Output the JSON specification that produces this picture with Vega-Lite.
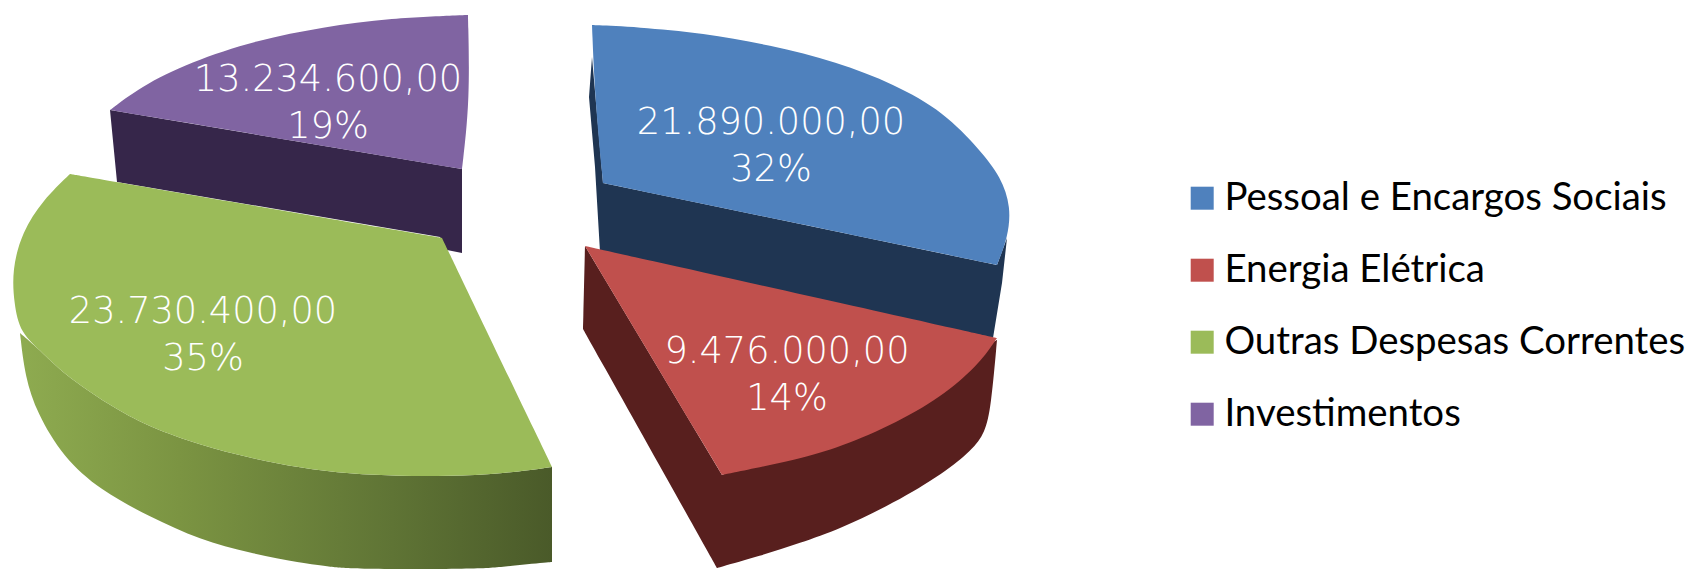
{"$schema":"https://vega.github.io/schema/vega-lite/v6.json","width":1689,"height":569,"padding":0,"autosize":{"type":"fit","contains":"padding"},"background":"white","config":{"view":{"stroke":null}},
"datasets":{"outline":[
{"s":"Investimentos","f":"side","o":0,"x":110,"y":110},{"s":"Investimentos","f":"side","o":1,"x":462,"y":169},{"s":"Investimentos","f":"side","o":2,"x":462,"y":253},{"s":"Investimentos","f":"side","o":3,"x":447,"y":250},{"s":"Investimentos","f":"side","o":4,"x":440,"y":237},{"s":"Investimentos","f":"side","o":5,"x":117,"y":182},
{"s":"Investimentos","f":"top","o":0,"x":468,"y":15},{"s":"Investimentos","f":"top","o":1,"x":468,"y":15},{"s":"Investimentos","f":"top","o":2,"x":468,"y":15},{"s":"Investimentos","f":"top","o":3,"x":390,"y":18},{"s":"Investimentos","f":"top","o":4,"x":323,"y":27},{"s":"Investimentos","f":"top","o":5,"x":257,"y":40},{"s":"Investimentos","f":"top","o":6,"x":190,"y":62},{"s":"Investimentos","f":"top","o":7,"x":140,"y":87},{"s":"Investimentos","f":"top","o":8,"x":110,"y":110},{"s":"Investimentos","f":"top","o":9,"x":110,"y":110},{"s":"Investimentos","f":"top","o":10,"x":110,"y":110},{"s":"Investimentos","f":"top","o":11,"x":462,"y":169},{"s":"Investimentos","f":"top","o":12,"x":462,"y":169},{"s":"Investimentos","f":"top","o":13,"x":462,"y":169},{"s":"Investimentos","f":"top","o":14,"x":470,"y":100},{"s":"Investimentos","f":"top","o":15,"x":468,"y":15},{"s":"Investimentos","f":"top","o":16,"x":468,"y":15},{"s":"Investimentos","f":"top","o":17,"x":468,"y":15},
{"s":"Outras Despesas Correntes","f":"side","o":0,"x":20,"y":333},{"s":"Outras Despesas Correntes","f":"side","o":1,"x":20,"y":333},{"s":"Outras Despesas Correntes","f":"side","o":2,"x":20,"y":333},{"s":"Outras Despesas Correntes","f":"side","o":3,"x":25,"y":377},{"s":"Outras Despesas Correntes","f":"side","o":4,"x":37,"y":413},{"s":"Outras Despesas Correntes","f":"side","o":5,"x":63,"y":457},{"s":"Outras Despesas Correntes","f":"side","o":6,"x":100,"y":490},{"s":"Outras Despesas Correntes","f":"side","o":7,"x":150,"y":517},{"s":"Outras Despesas Correntes","f":"side","o":8,"x":200,"y":540},{"s":"Outras Despesas Correntes","f":"side","o":9,"x":250,"y":553},{"s":"Outras Despesas Correntes","f":"side","o":10,"x":300,"y":563},{"s":"Outras Despesas Correntes","f":"side","o":11,"x":333,"y":567},{"s":"Outras Despesas Correntes","f":"side","o":12,"x":350,"y":569},{"s":"Outras Despesas Correntes","f":"side","o":13,"x":480,"y":569},{"s":"Outras Despesas Correntes","f":"side","o":14,"x":500,"y":567},{"s":"Outras Despesas Correntes","f":"side","o":15,"x":552,"y":562},{"s":"Outras Despesas Correntes","f":"side","o":16,"x":552,"y":562},{"s":"Outras Despesas Correntes","f":"side","o":17,"x":552,"y":562},{"s":"Outras Despesas Correntes","f":"side","o":18,"x":552,"y":467},{"s":"Outras Despesas Correntes","f":"side","o":19,"x":552,"y":467},{"s":"Outras Despesas Correntes","f":"side","o":20,"x":552,"y":467},{"s":"Outras Despesas Correntes","f":"side","o":21,"x":500,"y":474},{"s":"Outras Despesas Correntes","f":"side","o":22,"x":450,"y":476},{"s":"Outras Despesas Correntes","f":"side","o":23,"x":400,"y":476},{"s":"Outras Despesas Correntes","f":"side","o":24,"x":350,"y":474},{"s":"Outras Despesas Correntes","f":"side","o":25,"x":300,"y":468},{"s":"Outras Despesas Correntes","f":"side","o":26,"x":250,"y":458},{"s":"Outras Despesas Correntes","f":"side","o":27,"x":200,"y":445},{"s":"Outras Despesas Correntes","f":"side","o":28,"x":150,"y":427},{"s":"Outras Despesas Correntes","f":"side","o":29,"x":117,"y":410},{"s":"Outras Despesas Correntes","f":"side","o":30,"x":67,"y":377},{"s":"Outras Despesas Correntes","f":"side","o":31,"x":43,"y":353},{"s":"Outras Despesas Correntes","f":"side","o":32,"x":20,"y":333},{"s":"Outras Despesas Correntes","f":"side","o":33,"x":20,"y":333},{"s":"Outras Despesas Correntes","f":"side","o":34,"x":20,"y":333},
{"s":"Outras Despesas Correntes","f":"top","o":0,"x":70,"y":174},{"s":"Outras Despesas Correntes","f":"top","o":1,"x":70,"y":174},{"s":"Outras Despesas Correntes","f":"top","o":2,"x":70,"y":174},{"s":"Outras Despesas Correntes","f":"top","o":3,"x":442,"y":238},{"s":"Outras Despesas Correntes","f":"top","o":4,"x":442,"y":238},{"s":"Outras Despesas Correntes","f":"top","o":5,"x":442,"y":238},{"s":"Outras Despesas Correntes","f":"top","o":6,"x":552,"y":467},{"s":"Outras Despesas Correntes","f":"top","o":7,"x":552,"y":467},{"s":"Outras Despesas Correntes","f":"top","o":8,"x":552,"y":467},{"s":"Outras Despesas Correntes","f":"top","o":9,"x":500,"y":474},{"s":"Outras Despesas Correntes","f":"top","o":10,"x":450,"y":476},{"s":"Outras Despesas Correntes","f":"top","o":11,"x":400,"y":476},{"s":"Outras Despesas Correntes","f":"top","o":12,"x":350,"y":474},{"s":"Outras Despesas Correntes","f":"top","o":13,"x":300,"y":468},{"s":"Outras Despesas Correntes","f":"top","o":14,"x":250,"y":458},{"s":"Outras Despesas Correntes","f":"top","o":15,"x":200,"y":445},{"s":"Outras Despesas Correntes","f":"top","o":16,"x":150,"y":427},{"s":"Outras Despesas Correntes","f":"top","o":17,"x":117,"y":410},{"s":"Outras Despesas Correntes","f":"top","o":18,"x":67,"y":377},{"s":"Outras Despesas Correntes","f":"top","o":19,"x":43,"y":353},{"s":"Outras Despesas Correntes","f":"top","o":20,"x":20,"y":333},{"s":"Outras Despesas Correntes","f":"top","o":21,"x":14,"y":303},{"s":"Outras Despesas Correntes","f":"top","o":22,"x":12,"y":270},{"s":"Outras Despesas Correntes","f":"top","o":23,"x":22,"y":232},{"s":"Outras Despesas Correntes","f":"top","o":24,"x":43,"y":200},{"s":"Outras Despesas Correntes","f":"top","o":25,"x":70,"y":174},{"s":"Outras Despesas Correntes","f":"top","o":26,"x":70,"y":174},{"s":"Outras Despesas Correntes","f":"top","o":27,"x":70,"y":174},
{"s":"Pessoal e Encargos Sociais","f":"side","o":0,"x":603,"y":183},{"s":"Pessoal e Encargos Sociais","f":"side","o":1,"x":997,"y":265},{"s":"Pessoal e Encargos Sociais","f":"side","o":2,"x":1007,"y":238},{"s":"Pessoal e Encargos Sociais","f":"side","o":3,"x":1002,"y":283},{"s":"Pessoal e Encargos Sociais","f":"side","o":4,"x":993,"y":338},{"s":"Pessoal e Encargos Sociais","f":"side","o":5,"x":600,"y":252},{"s":"Pessoal e Encargos Sociais","f":"side","o":6,"x":595,"y":167},{"s":"Pessoal e Encargos Sociais","f":"side","o":7,"x":589,"y":97},{"s":"Pessoal e Encargos Sociais","f":"side","o":8,"x":592,"y":57},
{"s":"Pessoal e Encargos Sociais","f":"top","o":0,"x":592,"y":25},{"s":"Pessoal e Encargos Sociais","f":"top","o":1,"x":592,"y":25},{"s":"Pessoal e Encargos Sociais","f":"top","o":2,"x":592,"y":25},{"s":"Pessoal e Encargos Sociais","f":"top","o":3,"x":637,"y":27},{"s":"Pessoal e Encargos Sociais","f":"top","o":4,"x":703,"y":33},{"s":"Pessoal e Encargos Sociais","f":"top","o":5,"x":770,"y":45},{"s":"Pessoal e Encargos Sociais","f":"top","o":6,"x":837,"y":62},{"s":"Pessoal e Encargos Sociais","f":"top","o":7,"x":894,"y":84},{"s":"Pessoal e Encargos Sociais","f":"top","o":8,"x":944,"y":112},{"s":"Pessoal e Encargos Sociais","f":"top","o":9,"x":980,"y":150},{"s":"Pessoal e Encargos Sociais","f":"top","o":10,"x":1001,"y":177},{"s":"Pessoal e Encargos Sociais","f":"top","o":11,"x":1011,"y":207},{"s":"Pessoal e Encargos Sociais","f":"top","o":12,"x":1008,"y":237},{"s":"Pessoal e Encargos Sociais","f":"top","o":13,"x":997,"y":265},{"s":"Pessoal e Encargos Sociais","f":"top","o":14,"x":997,"y":265},{"s":"Pessoal e Encargos Sociais","f":"top","o":15,"x":997,"y":265},{"s":"Pessoal e Encargos Sociais","f":"top","o":16,"x":603,"y":183},{"s":"Pessoal e Encargos Sociais","f":"top","o":17,"x":603,"y":183},{"s":"Pessoal e Encargos Sociais","f":"top","o":18,"x":603,"y":183},{"s":"Pessoal e Encargos Sociais","f":"top","o":19,"x":595,"y":100},{"s":"Pessoal e Encargos Sociais","f":"top","o":20,"x":592,"y":25},{"s":"Pessoal e Encargos Sociais","f":"top","o":21,"x":592,"y":25},{"s":"Pessoal e Encargos Sociais","f":"top","o":22,"x":592,"y":25},
{"s":"Energia Elétrica","f":"side","o":0,"x":585,"y":246},{"s":"Energia Elétrica","f":"side","o":1,"x":585,"y":246},{"s":"Energia Elétrica","f":"side","o":2,"x":585,"y":246},{"s":"Energia Elétrica","f":"side","o":3,"x":583,"y":329},{"s":"Energia Elétrica","f":"side","o":4,"x":583,"y":329},{"s":"Energia Elétrica","f":"side","o":5,"x":583,"y":329},{"s":"Energia Elétrica","f":"side","o":6,"x":717,"y":568},{"s":"Energia Elétrica","f":"side","o":7,"x":717,"y":568},{"s":"Energia Elétrica","f":"side","o":8,"x":717,"y":568},{"s":"Energia Elétrica","f":"side","o":9,"x":760,"y":556},{"s":"Energia Elétrica","f":"side","o":10,"x":800,"y":543},{"s":"Energia Elétrica","f":"side","o":11,"x":840,"y":529},{"s":"Energia Elétrica","f":"side","o":12,"x":894,"y":503},{"s":"Energia Elétrica","f":"side","o":13,"x":944,"y":473},{"s":"Energia Elétrica","f":"side","o":14,"x":972,"y":450},{"s":"Energia Elétrica","f":"side","o":15,"x":985,"y":433},{"s":"Energia Elétrica","f":"side","o":16,"x":991,"y":407},{"s":"Energia Elétrica","f":"side","o":17,"x":997,"y":340},{"s":"Energia Elétrica","f":"side","o":18,"x":997,"y":340},{"s":"Energia Elétrica","f":"side","o":19,"x":997,"y":340},{"s":"Energia Elétrica","f":"side","o":20,"x":722,"y":475},{"s":"Energia Elétrica","f":"side","o":21,"x":722,"y":475},{"s":"Energia Elétrica","f":"side","o":22,"x":722,"y":475},
{"s":"Energia Elétrica","f":"top","o":0,"x":585,"y":246},{"s":"Energia Elétrica","f":"top","o":1,"x":585,"y":246},{"s":"Energia Elétrica","f":"top","o":2,"x":585,"y":246},{"s":"Energia Elétrica","f":"top","o":3,"x":997,"y":338},{"s":"Energia Elétrica","f":"top","o":4,"x":997,"y":338},{"s":"Energia Elétrica","f":"top","o":5,"x":997,"y":338},{"s":"Energia Elétrica","f":"top","o":6,"x":980,"y":363},{"s":"Energia Elétrica","f":"top","o":7,"x":947,"y":393},{"s":"Energia Elétrica","f":"top","o":8,"x":897,"y":423},{"s":"Energia Elétrica","f":"top","o":9,"x":840,"y":447},{"s":"Energia Elétrica","f":"top","o":10,"x":800,"y":459},{"s":"Energia Elétrica","f":"top","o":11,"x":722,"y":475},{"s":"Energia Elétrica","f":"top","o":12,"x":722,"y":475},{"s":"Energia Elétrica","f":"top","o":13,"x":722,"y":475},{"s":"Energia Elétrica","f":"top","o":14,"x":585,"y":246},{"s":"Energia Elétrica","f":"top","o":15,"x":585,"y":246},{"s":"Energia Elétrica","f":"top","o":16,"x":585,"y":246}
],"slices":[
{"s":"Pessoal e Encargos Sociais","value":21890000,"label":"21.890.000,00\n32%","x":771,"y":123},
{"s":"Energia Elétrica","value":9476000,"label":"9.476.000,00\n14%","x":787,"y":352},
{"s":"Outras Despesas Correntes","value":23730400,"label":"23.730.400,00\n35%","x":203,"y":312},
{"s":"Investimentos","value":13234600,"label":"13.234.600,00\n19%","x":328,"y":80}
]},
"encoding":{"x":{"field":"x","type":"quantitative","axis":null,"scale":{"domain":[0,1689],"nice":false,"zero":false}},"y":{"field":"y","type":"quantitative","axis":null,"scale":{"domain":[0,569],"reverse":true,"nice":false,"zero":false}}},
"layer":[
{"data":{"name":"outline"},"transform":[{"filter":"datum.f=='side'&&datum.s=='Investimentos'"}],"mark":{"type":"line","fill":"#36264a","strokeWidth":0},"encoding":{"order":{"field":"o","type":"quantitative"}}},
{"data":{"name":"outline"},"transform":[{"filter":"datum.f=='side'&&datum.s=='Pessoal e Encargos Sociais'"}],"mark":{"type":"line","fill":"#1f3552","strokeWidth":0},"encoding":{"order":{"field":"o","type":"quantitative"}}},
{"data":{"name":"outline"},"transform":[{"filter":"datum.f=='side'&&datum.s=='Energia Elétrica'"}],"mark":{"type":"line","interpolate":"basis","fill":"#581f1e","strokeWidth":0},"encoding":{"order":{"field":"o","type":"quantitative"}}},
{"data":{"name":"outline"},"transform":[{"filter":"datum.f=='side'&&datum.s=='Outras Despesas Correntes'"}],"mark":{"type":"line","interpolate":"basis","strokeWidth":0,"fill":{"gradient":"linear","x1":0,"x2":1,"y1":0,"y2":0,"stops":[{"offset":0,"color":"#8eab50"},{"offset":0.3,"color":"#7b9442"},{"offset":0.7,"color":"#5f7435"},{"offset":1,"color":"#4a5a29"}]}},"encoding":{"order":{"field":"o","type":"quantitative"}}},
{"data":{"name":"outline"},"transform":[{"filter":"datum.f=='top'"}],"mark":{"type":"line","interpolate":"basis","strokeWidth":0},"encoding":{"order":{"field":"o","type":"quantitative"},"fill":{"field":"s","type":"nominal","scale":{"domain":["Pessoal e Encargos Sociais","Energia Elétrica","Outras Despesas Correntes","Investimentos"],"range":["#4f81bd","#c0504d","#9bbb59","#8064a2"]},"legend":{"title":null,"orient":"none","legendX":1183,"legendY":179,"symbolType":"square","symbolSize":529,"symbolStrokeWidth":0,"labelFont":"Lato","labelFontSize":38.4,"labelColor":"#000","labelOffset":3,"rowPadding":33,"labelLimit":500}}}},
{"data":{"name":"slices"},"mark":{"type":"text","font":"DejaVu Sans","fontWeight":200,"fontSize":36.7,"color":"white","lineBreak":"\n","lineHeight":47,"baseline":"middle","align":"center"},"encoding":{"text":{"field":"label"}}}
]}
